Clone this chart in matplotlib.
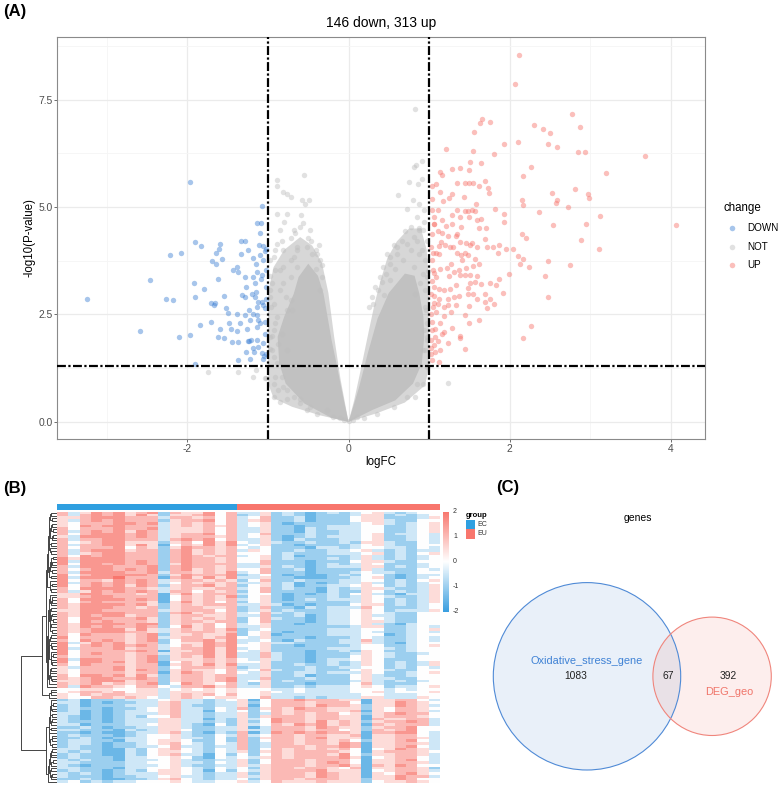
import numpy as np
import matplotlib
matplotlib.use('Agg')
import matplotlib.pyplot as plt
from matplotlib.colors import LinearSegmentedColormap, ListedColormap
from matplotlib.patches import Circle, Rectangle

plt.rcParams['font.family'] = ['Liberation Sans', 'DejaVu Sans']

W, H = 779, 786

# ---------------- (A) volcano data (logFC, -log10 P) ----------------
down_pts = [
    (-3.25, 2.86), (-2.59, 2.12), (-2.47, 3.29), (-2.27, 2.85), (-2.18, 2.83), (-2.22, 3.88), (-2.08, 3.93),
    (-2.10, 1.98), (-1.97, 2.01), (-1.97, 5.59), (-1.91, 4.19), (-1.83, 4.09), (-1.92, 3.22), (-1.80, 3.09),
    (-1.90, 2.91), (-1.85, 2.25), (-1.91, 1.34), (-1.71, 2.33), (-1.70, 3.74), (-1.64, 3.94), (-1.61, 4.03),
    (-1.60, 4.15), (-1.57, 3.78), (-1.64, 3.68), (-1.62, 3.33), (-1.71, 2.77), (-1.67, 2.73), (-1.66, 2.77),
    (-1.55, 2.92), (-1.52, 2.64), (-1.50, 2.54), (-1.48, 2.30), (-1.46, 2.17), (-1.59, 2.17), (-1.62, 1.98),
    (-1.55, 1.94), (-1.45, 1.86), (-1.37, 1.86), (-1.38, 2.11), (-1.35, 2.29), (-1.38, 2.50), (-1.37, 1.43),
    (-1.43, 3.54), (-1.38, 3.60), (-1.37, 3.49), (-1.33, 4.22), (-1.28, 4.22), (-1.33, 3.91), (-1.25, 3.99),
    (-1.32, 2.95), (-1.29, 2.91), (-1.28, 3.37), (-1.27, 3.14), (-1.29, 2.48), (-1.26, 2.17), (-1.25, 1.88),
    (-1.24, 1.88), (-1.21, 1.90), (-1.22, 1.47), (-1.27, 1.63), (-1.22, 2.36), (-1.23, 2.60), (-1.19, 3.37),
    (-1.18, 3.82), (-1.14, 4.63), (-1.09, 4.63), (-1.07, 5.02), (-1.10, 4.40), (-1.11, 4.11), (-1.10, 3.88),
    (-1.15, 3.68), (-1.06, 4.09), (-1.04, 3.98), (-1.06, 3.76), (-1.03, 4.03), (-1.07, 3.41), (-1.09, 3.33),
    (-1.16, 3.22), (-1.15, 3.02), (-1.16, 2.91), (-1.13, 2.79), (-1.08, 2.79), (-1.06, 2.71), (-1.14, 2.67),
    (-1.14, 2.48), (-1.12, 2.38), (-1.10, 2.30), (-1.14, 2.21), (-1.04, 2.33), (-1.04, 2.05), (-1.06, 1.84),
    (-1.14, 1.90), (-1.13, 1.74), (-1.18, 1.71), (-1.17, 1.63), (-1.08, 1.60), (-1.05, 1.53), (-1.06, 1.47),
    (-1.02, 1.57), (-1.04, 2.64), (-1.02, 2.87), (-1.03, 3.14), (-1.02, 3.53), (-1.14, 3.49), (-1.20, 2.98),
    (-1.19, 2.52),
]

up_pts = [
    (2.12, 8.53), (2.07, 7.87), (2.78, 7.17), (2.87, 6.87), (2.30, 6.91), (2.41, 6.82), (2.50, 6.73),
    (2.48, 6.47), (2.59, 6.40), (2.85, 6.29), (2.93, 6.27), (3.68, 6.19), (3.20, 5.79), (2.11, 6.51),
    (1.93, 6.46), (1.81, 6.23), (1.66, 7.05), (1.63, 6.95), (1.76, 6.98), (1.56, 6.75), (1.21, 6.36),
    (1.55, 6.30), (2.26, 5.93), (2.16, 5.72), (2.81, 5.43), (2.52, 5.32), (2.97, 5.31), (2.98, 5.21),
    (2.59, 5.17), (2.57, 5.09), (2.72, 5.00), (2.15, 5.16), (2.17, 5.04), (2.36, 4.88), (2.54, 4.59),
    (3.12, 4.78), (2.95, 4.61), (2.89, 4.24), (3.11, 4.03), (4.06, 4.57), (2.15, 4.38), (2.20, 4.28),
    (2.04, 4.02), (1.96, 4.03), (2.11, 3.86), (2.17, 3.78), (2.13, 3.68), (2.24, 3.60), (2.48, 3.74),
    (2.75, 3.64), (2.44, 3.39), (2.48, 2.91), (1.99, 3.43), (1.92, 2.99), (1.87, 3.32), (2.27, 2.24),
    (2.16, 1.96), (1.93, 4.84), (1.93, 4.65), (1.82, 4.96), (1.87, 4.11), (1.79, 4.07), (1.85, 3.93),
    (1.72, 4.07), (1.69, 4.26), (1.71, 4.50), (1.62, 4.50), (1.64, 4.73), (1.60, 4.69), (1.57, 4.90),
    (1.48, 4.90), (1.44, 4.90), (1.53, 4.94), (1.35, 4.92), (1.39, 4.77), (1.50, 4.77), (1.58, 5.08),
    (1.29, 5.31), (1.43, 5.23), (1.25, 5.22), (1.17, 5.13), (1.11, 4.92), (1.06, 4.77), (1.06, 4.60),
    (1.16, 4.69), (1.28, 4.81), (1.28, 4.60), (1.21, 4.55), (1.11, 4.43), (1.16, 4.40), (1.23, 4.32),
    (1.33, 4.32), (1.35, 4.38), (1.40, 4.53), (1.39, 4.19), (1.46, 4.17), (1.51, 4.11), (1.59, 4.07),
    (1.53, 4.16), (1.44, 3.94), (1.35, 3.94), (1.30, 4.07), (1.26, 4.07), (1.20, 4.11), (1.15, 4.19),
    (1.12, 4.09), (1.09, 3.94), (1.05, 3.94), (1.12, 3.91), (1.40, 3.88), (1.48, 3.88), (1.41, 3.76),
    (1.57, 3.78), (1.62, 3.68), (1.54, 3.62), (1.46, 3.57), (1.37, 3.53), (1.31, 3.49), (1.22, 3.57),
    (1.27, 3.68), (1.14, 3.55), (1.06, 3.47), (1.08, 3.36), (1.25, 3.40), (1.38, 3.41), (1.45, 3.41),
    (1.51, 3.41), (1.60, 3.39), (1.57, 3.26), (1.51, 3.22), (1.48, 3.12), (1.64, 3.20), (1.76, 3.22),
    (1.83, 3.19), (1.69, 2.98), (1.55, 2.98), (1.48, 2.98), (1.37, 2.93), (1.33, 3.18), (1.26, 3.10),
    (1.19, 3.06), (1.12, 3.10), (1.06, 3.14), (1.06, 2.92), (1.12, 2.85), (1.23, 2.85), (1.31, 2.91),
    (1.59, 2.85), (1.76, 2.87), (1.80, 2.75), (1.69, 2.79), (1.72, 2.66), (1.50, 2.69), (1.34, 2.71),
    (1.24, 2.71), (1.19, 2.67), (1.11, 2.75), (1.06, 2.77), (1.09, 2.56), (1.27, 2.56), (1.45, 2.48),
    (1.18, 2.46), (1.62, 2.36), (1.50, 2.31), (1.28, 2.19), (1.14, 2.29), (1.07, 2.17), (1.18, 2.09),
    (1.16, 2.04), (1.07, 1.98), (1.38, 1.99), (1.39, 1.94), (1.23, 1.84), (1.11, 1.88), (1.06, 1.78),
    (1.45, 1.69), (1.13, 1.67), (1.07, 1.63), (1.12, 1.40), (1.04, 1.43), (1.02, 1.57), (1.02, 1.71),
    (1.03, 1.91), (1.04, 2.13), (1.04, 2.33), (1.03, 2.52), (1.05, 2.67), (1.03, 2.98), (1.04, 3.27),
    (1.05, 3.53), (1.04, 3.76), (1.03, 4.07), (1.04, 4.38), (1.06, 4.61), (1.04, 4.92), (1.04, 5.19),
    (1.04, 5.50), (1.08, 5.53), (1.13, 5.81), (1.16, 5.74), (1.29, 5.88), (1.38, 5.91), (1.50, 5.85),
    (1.51, 6.05), (1.65, 6.02), (1.35, 5.55), (1.45, 5.55), (1.49, 5.55), (1.54, 5.55), (1.62, 5.50),
    (1.70, 5.60), (1.73, 5.44), (1.74, 5.33), (1.13, 5.36),
]

# scattered non-significant genes outside the saturated core
not_pts = [
    (-0.55, 5.74), (-0.89, 5.62), (-0.89, 5.50), (-0.81, 5.35), (-0.76, 5.31), (-0.72, 5.23), (-0.58, 5.16),
    (-0.49, 5.17), (-0.54, 5.08), (-0.89, 4.84), (-0.76, 4.84), (-0.59, 4.81), (-0.80, 4.65), (-0.56, 4.63),
    (-0.85, 4.46), (-0.72, 4.29), (-0.50, 4.29), (-0.46, 4.21), (-0.37, 4.11), (-0.41, 3.99), (-0.89, 4.15),
    (-0.93, 3.84), (-0.81, 3.99), (-0.64, 4.07), (-0.68, 3.84), (-0.91, 3.53), (-0.95, 3.22), (-0.85, 3.06),
    (-0.93, 2.75), (-0.89, 2.44), (-0.93, 2.13), (-0.87, 1.82), (-0.93, 1.51), (-0.91, 1.05), (-0.93, 0.58),
    (-0.85, 0.47), (-0.77, 0.54), (-0.81, 0.81), (-0.60, 0.54), (-0.48, 0.35), (-0.33, 3.37), (-0.33, 3.64),
    (-0.35, 3.06), (-0.72, 3.37), (-0.64, 3.60), (-0.81, 3.60), (-1.19, 1.05), (-1.04, 1.01), (-1.75, 1.15),
    (-1.37, 1.16), (-1.15, 1.20), (-1.03, 1.03), (-0.78, 2.90), (-0.70, 2.60), (-0.95, 2.00), (-0.98, 1.70),
    (-0.97, 2.90), (-0.98, 3.40), (-0.66, 4.40), (-0.45, 3.90), (-0.40, 3.55),
    (-0.97, 3.76), (-0.91, 3.99), (-0.83, 4.22), (-0.68, 4.46), (-0.60, 4.53), (-0.48, 4.46), (-0.39, 3.91),
    (-0.35, 3.76), (-0.97, 3.06), (-0.96, 2.67), (-0.91, 2.29), (-0.97, 1.98), (-0.95, 1.67), (-0.89, 1.36),
    (-0.83, 1.05), (-0.93, 0.89), (-0.87, 0.74), (-0.77, 0.74), (-0.68, 0.58), (-0.60, 0.43), (-0.52, 0.27),
    (-0.39, 0.19), (-0.81, 3.22), (-0.72, 2.83), (-0.77, 2.60), (-0.85, 3.53), (-0.64, 3.99), (-0.52, 4.07),
    (-0.72, 3.76), (-0.77, 1.67), (-0.83, 2.05), (-0.27, 0.27), (-0.19, 0.12),
    (0.00, 0.02), (-0.05, 0.05), (0.05, 0.05), (-0.10, 0.10), (0.10, 0.12),
    (0.81, 5.93), (0.91, 6.07), (0.84, 5.97), (0.75, 5.58), (0.86, 5.54), (0.91, 5.66), (0.62, 5.27),
    (0.80, 5.17), (0.72, 4.96), (0.87, 5.08), (0.94, 4.92), (0.85, 4.77), (0.94, 4.65), (0.93, 4.46),
    (0.66, 4.22), (0.81, 4.30), (0.56, 4.11), (0.48, 3.91), (0.52, 3.68), (0.46, 3.45), (0.41, 3.26),
    (0.37, 3.06), (0.31, 2.75), (0.60, 3.91), (0.77, 3.99), (0.87, 3.91), (0.95, 3.76), (0.93, 3.45),
    (0.95, 3.06), (0.96, 2.60), (0.94, 2.13), (0.95, 1.67), (0.97, 1.28), (0.93, 0.89), (0.83, 0.58),
    (0.82, 7.29), (1.24, 0.91), (0.70, 4.45), (0.58, 3.55), (0.52, 3.30), (0.44, 2.95), (0.98, 2.30),
    (0.99, 3.50), (0.98, 1.90), (0.97, 4.20), (0.88, 4.50),
    (0.85, 0.89), (0.72, 0.58), (0.56, 0.35), (0.35, 0.19), (0.19, 0.08), (0.93, 1.67), (0.97, 1.98),
    (0.95, 2.67), (0.97, 3.37), (0.91, 3.99), (0.85, 4.22), (0.72, 4.15), (0.60, 4.07), (0.52, 3.84),
    (0.43, 3.60), (0.39, 3.37), (0.33, 3.14), (0.29, 2.91), (0.25, 2.67), (0.77, 4.53), (0.87, 4.46),
    (0.68, 3.76), (0.81, 3.60), (0.89, 3.22), (0.83, 2.98),
]

# outline of the dense grey cloud (outer = overlapping fringe, inner = saturated core)
cloud_outer = [
    [(0, 0), (-0.35, 0.15), (-0.7, 0.35), (-0.93, 0.55), (-1.0, 0.9), (-1.0, 3.0), (-0.93, 3.6), (-0.8, 4.0),
     (-0.6, 4.3), (-0.45, 4.1), (-0.33, 3.7), (-0.25, 3.0), (-0.18, 2.0), (-0.1, 1.0)],
    [(0, 0), (0.35, 0.2), (0.7, 0.45), (0.95, 0.85), (1.0, 1.3), (1.0, 3.2), (0.97, 4.0), (0.9, 4.5),
     (0.75, 4.5), (0.6, 4.2), (0.48, 3.8), (0.4, 3.3), (0.33, 2.8), (0.25, 2.1), (0.15, 1.2), (0.07, 0.5)],
]
cloud_inner = [
    [(0, 0), (-0.22, 0.1), (-0.55, 0.43), (-0.78, 0.89), (-0.86, 1.36), (-0.88, 1.98), (-0.8, 2.44),
     (-0.68, 2.98), (-0.62, 3.37), (-0.5, 3.68), (-0.38, 3.4), (-0.31, 2.98), (-0.26, 2.44), (-0.21, 1.9),
     (-0.15, 1.36), (-0.1, 0.89), (-0.05, 0.43)],
    [(0, 0), (0.3, 0.28), (0.58, 0.5), (0.8, 0.89), (0.91, 1.36), (0.94, 1.98), (0.93, 2.44), (0.88, 2.98),
     (0.82, 3.4), (0.7, 3.45), (0.5, 3.0), (0.36, 2.4), (0.24, 1.6), (0.13, 0.8), (0.05, 0.3)],
]

n_down, n_up = 146, 313
logfc_cut = 1
p_cut = 0.05

# ---------------- (B) heatmap data ----------------
# levels 0..8 -> z-score -2..2 ; 16 EC samples then 18 EU samples
groups = ['EC'] * 16 + ['EU'] * 18
hm_top = [
    "6357 6756 7265 5746 3352 3212 3234 5323 44",
    "7466 5767 6356 6565 2462 2322 2334 4232 45",
    "5577 6665 6157 5666 3442 1212 3245 3213 35",
    "6456 7755 5256 4757 4353 2232 2325 5322 43",
    "7367 6767 6346 5656 3352 3121 2335 3232 34",
    "6476 6656 7255 6557 2451 2222 3334 4123 44",
    "5567 7766 6366 5646 3462 2312 2245 5222 35",
    "6466 6746 5257 6656 4342 2213 3234 4332 43",
    "7357 6756 6245 5767 3453 3222 2335 3213 44",
    "6577 7665 6256 6556 2362 2132 3336 4222 34",
    "5466 6776 7356 5646 3452 1222 2234 5323 45",
    "6367 7756 6267 5656 3542 2322 3345 3232 33",
    "7466 6667 6155 6757 4352 2212 2325 4223 44",
    "6477 7766 5356 5566 3462 3221 3235 5322 35",
    "5366 6756 6246 6656 2352 2232 2334 4232 43",
    "6577 7767 7256 5646 3452 2122 3345 3213 44",
    "7467 6656 6356 6757 3363 2212 2235 4322 34",
    "6356 7766 6267 5656 4442 3222 3334 5232 45",
    "6477 6757 5256 6566 3352 2312 2245 3223 44",
    "5567 7666 6146 5657 2452 1222 3235 4322 35",
    "6467 7767 6356 6746 3462 2232 2334 5233 43",
    "7377 6656 7255 5656 4353 2212 3345 4222 44",
    "6476 7766 6267 6566 3452 3122 2235 3232 34",
    "6567 7757 5356 5657 2342 2222 3334 4223 45",
    "5367 6766 6256 6746 3562 2312 2245 5322 44",
    "6477 7767 6146 5656 3452 1232 3335 4232 35",
    "7466 6656 7356 6567 4352 2212 2234 3223 43",
    "6577 7766 6267 5656 3463 2322 3345 4322 44",
    "6367 6757 5255 6746 2352 3212 2235 5232 34",
    "5476 7766 6356 5656 3452 2122 3334 4223 45",
    "6567 7667 6256 6567 3362 2232 2245 3322 44",
    "7477 6756 7146 5656 4452 2212 3235 4232 35",
    "6366 7766 6367 6746 3352 1322 2334 5223 43",
    "6477 6667 5256 5656 2463 2212 3345 4322 44",
    "5567 7756 6256 6567 3452 3222 2235 3232 34",
    "6466 6766 7355 5646 3352 2132 3334 4223 45",
    "7377 7767 6267 6656 4462 2212 2245 5322 44",
    "6476 6656 6156 5757 3352 2322 3235 4232 35",
    "6567 7766 5356 6656 2452 1222 3334 3223 43",
    "5466 6757 6256 5546 3463 2232 2245 4322 44",
    "6377 7666 7267 6656 3352 3212 3335 5232 34",
    "7467 6767 6346 5767 4452 2122 2234 4223 45",
    "6576 7756 6256 6556 3362 2312 3345 3322 44",
    "6467 6666 5157 5646 2452 2222 2235 4232 35",
    "5377 7767 6356 6656 3452 1232 3334 5223 43",
    "6466 6656 7256 5757 3363 2212 2245 4322 44",
    "7577 7766 6267 6656 4452 3222 3235 3232 34",
    "6367 6757 6355 5646 3352 2132 2334 4223 45",
    "6476 7666 5256 6566 2462 2212 3345 5322 44",
    "4455 5445 5345 4545 4443 3433 3344 4343 44",
    "6376 6546 6436 6756 3352 2323 3345 4233 45",
    "7467 7777 6257 6667 2342 1211 2324 4212 33",
    "5446 6565 4356 5455 4463 3232 3335 5333 54",
    "6567 5656 7247 6546 3252 2212 2246 3222 44",
    "7377 7866 6167 5757 3352 2111 2234 5212 34",
    "5465 6655 5356 5646 4453 3333 3334 4333 44",
    "6357 6767 6366 4656 2462 2221 3225 4232 35",
    "6476 7656 7246 6757 3342 1322 2336 3223 43",
    "4566 5645 5355 5545 4454 3433 3344 5344 45",
    "7477 6767 6257 6666 3362 2212 3235 4222 34",
    "6366 7757 5146 5757 3452 2122 2234 5322 44",
    "5577 6666 6356 6646 2352 3222 3345 4233 35",
    "6467 7676 7267 5656 4462 2312 2225 3222 43",
    "7366 6756 6356 6757 3452 2222 3334 4323 44",
    "6577 7767 5256 5666 3353 1212 2245 5232 34",
    "5466 6656 6157 6546 4352 2332 3335 4223 45",
    "6377 7766 7366 5657 3462 2212 2234 3322 44",
    "7467 6757 6256 6756 2452 3122 3345 4232 35",
    "6576 7667 6247 5646 3352 2222 2235 5223 43",
]
hm_bottom = [
    "2312 2233 3453 3234 5146 6766 6551 5566 43",
    "3322 1132 4564 3243 6246 5656 5641 4576 53",
    "2232 1223 3553 2233 5136 6657 6552 5667 44",
    "3322 2133 4454 3243 4256 6566 5461 5566 52",
    "3212 1233 3553 3132 5347 6656 6551 6556 63",
    "2322 1223 4563 3243 6256 5766 5552 5466 54",
    "3232 2133 3453 2233 5246 6656 6641 5567 43",
    "2322 1232 4554 3142 4356 6667 5551 4566 53",
    "3312 1233 3563 3233 5236 5656 6452 5676 64",
    "2322 2123 4453 2243 6346 6566 5561 5566 43",
    "3232 1233 3554 3233 5256 6657 6551 5467 54",
    "2322 1132 4563 3142 4246 5666 5742 5566 53",
    "3212 2233 3453 2233 5356 6656 6751 6576 44",
    "2332 1223 4564 3243 6236 6566 5761 5566 53",
    "3222 1233 3553 3232 5247 6657 5652 5667 63",
    "2322 2133 4454 2143 4356 5666 6751 4566 43",
    "3312 1223 3563 3233 5246 6656 6641 5576 54",
    "2232 1233 4453 3242 6256 6567 5551 5566 53",
    "3322 2132 3554 2233 5336 6656 6452 6567 44",
    "2312 1233 4563 3143 4246 5666 5561 5466 53",
    "3222 1223 3453 3233 5356 6657 6551 5576 63",
    "2332 2133 4554 2242 6246 6566 5642 5567 43",
    "3212 1232 4463 3233 5256 6656 6551 5666 54",
    "3423 2334 4454 3344 5346 5556 5552 4556 54",
    "2212 1123 3563 2132 6137 6767 6651 6677 43",
    "3322 2233 4453 3243 5246 6656 7641 5566 53",
    "2232 1122 3564 3233 4256 6566 6552 5576 44",
    "3312 2233 4553 2142 5346 5767 5651 6566 63",
    "2322 1223 3463 3233 6236 6656 6761 5567 43",
    "3232 1132 4554 3243 5256 5666 6541 5666 54",
    "2312 2233 3563 2233 5146 6657 6652 5576 53",
]

# ---------------- (C) venn data ----------------
set_names = ['Oxidative_stress_gene', 'DEG_geo']
only_a, both, only_b = 1083, 67, 392


def rows_to_matrix(rows):
    return np.array([[(int(c) - 4) / 2 for c in r.replace(' ', '')] for r in rows])


def complete_linkage(X):
    # same as pheatmap default: euclidean distance, complete linkage
    n = len(X)
    D = np.sqrt(((X[:, None, :] - X[None, :, :]) ** 2).sum(-1))
    np.fill_diagonal(D, np.inf)
    act = np.ones(n, bool)
    label = list(range(n))
    merges = []
    nxt = n
    for _ in range(n - 1):
        M = D.copy()
        M[~act, :] = np.inf
        M[:, ~act] = np.inf
        i, j = np.unravel_index(np.argmin(M), M.shape)
        if i > j:
            i, j = j, i
        merges.append((label[i], label[j], D[i, j]))
        new = np.maximum(D[i], D[j])
        D[i, :] = new
        D[:, i] = new
        D[i, i] = np.inf
        D[j, :] = np.inf
        D[:, j] = np.inf
        act[j] = False
        label[i] = nxt
        nxt += 1
    return merges


def lens_area(d, r1, r2):
    a1 = r1 ** 2 * np.arccos((d * d + r1 * r1 - r2 * r2) / (2 * d * r1))
    a2 = r2 ** 2 * np.arccos((d * d + r2 * r2 - r1 * r1) / (2 * d * r2))
    k = 0.5 * np.sqrt((-d + r1 + r2) * (d + r1 - r2) * (d - r1 + r2) * (d + r1 + r2))
    return a1 + a2 - k


fig = plt.figure(figsize=(W / 100, H / 100), dpi=100)


def ax_px(x0, y0, x1, y1):
    return fig.add_axes([x0 / W, 1 - y1 / H, (x1 - x0) / W, (y1 - y0) / H])


ov = ax_px(0, 0, W, H)
ov.set_xlim(0, W)
ov.set_ylim(H, 0)
ov.axis('off')

# ================= (A) volcano =================
c_down, c_not, c_up = '#3d80d4', '#bdbdbd', '#f7726a'
ax = ax_px(57.3, 37, 705, 439.3)
for poly in cloud_outer:
    px, py = zip(*poly)
    ax.fill(px, py, color=c_not, alpha=0.6, lw=0, zorder=2)
for poly in cloud_inner:
    px, py = zip(*poly)
    ax.fill(px, py, color='#c1c1c1', alpha=1, lw=0, zorder=2)
for pts, col in [(not_pts, c_not), (down_pts, c_down), (up_pts, c_up)]:
    x, y = np.array(pts).T
    ax.scatter(x, y, s=15, c=col, alpha=0.45, lw=0, zorder=3)

allp = np.array(down_pts + up_pts + not_pts)
xr = allp[:, 0].max() - allp[:, 0].min()
yr = allp[:, 1].max() - allp[:, 1].min()
ax.set_xlim(allp[:, 0].min() - 0.05 * xr, allp[:, 0].max() + 0.05 * xr)
ax.set_ylim(allp[:, 1].min() - 0.05 * yr, allp[:, 1].max() + 0.05 * yr)

dd = (4, 1.1, 1, 1.1)
for v in (-logfc_cut, logfc_cut):
    ax.axvline(v, color='black', lw=1.6, dashes=dd, zorder=4)
ax.axhline(-np.log10(p_cut), color='black', lw=1.6, dashes=dd, zorder=4)

ax.set_xticks([-2, 0, 2, 4])
ax.set_xticklabels(['-2', '0', '2', '4'])
ax.set_xticks([-3, -1, 1, 3], minor=True)
ax.set_yticks([0, 2.5, 5, 7.5])
ax.set_yticklabels(['0.0', '2.5', '5.0', '7.5'])
ax.set_yticks([1.25, 3.75, 6.25, 8.75], minor=True)
ax.grid(which='major', color='#ebebeb', lw=0.9)
ax.grid(which='minor', color='#f5f5f5', lw=0.6)
ax.set_axisbelow(True)
ax.tick_params(which='major', length=2.2, width=0.6, color='#555555', labelsize=7.4,
               labelcolor='#4d4d4d', pad=1)
ax.tick_params(which='minor', length=0)
for s in ax.spines.values():
    s.set_color('#8a8a8a')
    s.set_linewidth(0.8)

ov.text(381, 23, '%d down, %d up' % (n_down, n_up), fontsize=10, ha='center', va='center')
ov.text(381, 461.7, 'logFC', fontsize=8.3, ha='center', va='center')
ov.text(30, 238, '-log10(P-value)', fontsize=8.3, ha='center', va='center', rotation=90)
ov.text(723.3, 208, 'change', fontsize=8.3, ha='left', va='center')
for i, (lab, col) in enumerate([('DOWN', c_down), ('NOT', c_not), ('UP', c_up)]):
    yk = 228 + i * 18.65
    ov.scatter([731.7], [yk], s=16, c=col, alpha=0.45, lw=0)
    ov.text(747.7, yk, lab, fontsize=7.1, ha='left', va='center')

ov.text(2.7, 11.7, '(A)', fontsize=12, fontweight='bold', ha='left', va='center')

# ================= (B) heatmap =================
top = rows_to_matrix(hm_top)
bot = rows_to_matrix(hm_bottom)
mat = np.vstack([top, bot])
n = len(mat)
merges = complete_linkage(mat)
kids = {n + k: (a, b, h) for k, (a, b, h) in enumerate(merges)}
root = n + len(merges) - 1


def leaves(node):
    if node < n:
        return [node]
    a, b, _ = kids[node]
    return leaves(a) + leaves(b)


order = leaves(root)
if order[0] >= len(top):
    order = order[::-1]
pos = {leaf: i + 0.5 for i, leaf in enumerate(order)}
hgt = {leaf: 0.0 for leaf in order}

den = ax_px(20, 511.7, 57, 783.3)
for node in range(n, root + 1):
    a, b, h = kids[node]
    den.plot([hgt[a], h, h, hgt[b]], [pos[a], pos[a], pos[b], pos[b]], color='#444444', lw=0.7)
    pos[node] = (pos[a] + pos[b]) / 2
    hgt[node] = h
den.set_xlim(hgt[root] * 1.03, 0)
den.set_ylim(n, 0)
den.axis('off')

hm_cmap = LinearSegmentedColormap.from_list('bwr2', ['#3a9fe0', '#ffffff', '#f8766d'])
grp_cols = {'EC': '#2f9fe0', 'EU': '#f8766d'}
hm = ax_px(57, 511.7, 440, 783.3)
hm.imshow(mat[order], cmap=hm_cmap, vmin=-2, vmax=2, aspect='auto', interpolation='nearest')
hm.axis('off')

ann = ax_px(57, 503.7, 440, 510)
gcode = np.array([[0 if g == 'EC' else 1 for g in groups]])
ann.imshow(gcode, cmap=ListedColormap([grp_cols['EC'], grp_cols['EU']]), vmin=0, vmax=1,
           aspect='auto', interpolation='nearest')
ann.axis('off')

cb = ax_px(443.3, 511.7, 449, 611.7)
cb.imshow(np.linspace(2, -2, 200)[:, None], cmap=hm_cmap, vmin=-2, vmax=2, aspect='auto',
          extent=(0, 1, -2, 2))
cb.set_xlim(0, 1)
cb.set_ylim(-2, 2)
cb.axis('off')
for v in [2, 1, 0, -1, -2]:
    cb.text(1.7, v, str(v), fontsize=5, ha='left', va='center', color='#333333', clip_on=False)

ov.text(466, 515.7, 'group', fontsize=5.5, fontweight='bold', ha='left', va='center')
for i, g in enumerate(['EC', 'EU']):
    y0 = 520 + i * 9.3
    ov.add_patch(Rectangle((466, y0), 9, 9.3, color=grp_cols[g], lw=0))
    ov.text(477.7, y0 + 4.6, g, fontsize=5, ha='left', va='center', color='#333333')

ov.text(2.7, 489, '(B)', fontsize=12, fontweight='bold', ha='left', va='center')

# ================= (C) venn =================
ra = np.sqrt((only_a + both) / np.pi)
rb = np.sqrt((only_b + both) / np.pi)
lo, hi = abs(ra - rb) + 1e-6, ra + rb - 1e-6
for _ in range(80):
    mid = (lo + hi) / 2
    if lens_area(mid, ra, rb) > both:
        lo = mid
    else:
        hi = mid
dist = (lo + hi) / 2

sc = 93.7 / ra  # pixels per unit
cx, cy = 587, 676.3
vx0, vy0, vx1, vy1 = 480, 530, 779, 786
vn = ax_px(vx0, vy0, vx1, vy1)
vn.set_xlim(-(cx - vx0) / sc, (vx1 - cx) / sc)
vn.set_ylim(-(vy1 - cy) / sc, (cy - vy0) / sc)
vn.axis('off')
vn.add_patch(Circle((0, 0), ra, facecolor='#3a78d0', alpha=0.11, lw=0))
vn.add_patch(Circle((dist, 0), rb, facecolor='#f06050', alpha=0.1, lw=0))
vn.add_patch(Circle((0, 0), ra, fill=False, edgecolor='#4f8ad6', lw=0.8))
vn.add_patch(Circle((dist, 0), rb, fill=False, edgecolor='#f0857c', lw=0.8))

xa = (-ra + dist - rb) / 2
xab = (dist - rb + ra) / 2
xb = (ra + dist + rb) / 2
vn.text(xa + 0.6, 0, str(only_a), fontsize=7.4, ha='center', va='center', color='#222222')
vn.text(xab + 0.3, 0, str(both), fontsize=7.4, ha='center', va='center', color='#222222')
vn.text(xb + 0.4, 0, str(only_b), fontsize=7.4, ha='center', va='center', color='#222222')
vn.text(0, 3.2, set_names[0], fontsize=7.9, ha='center', va='center', color='#3f82d5')
vn.text(xb + 0.6, -3.3, set_names[1], fontsize=7.9, ha='center', va='center', color='#f0756a')

ov.text(638.3, 518.3, 'genes', fontsize=7.5, ha='center', va='center')
ov.text(496, 487.3, '(C)', fontsize=12, fontweight='bold', ha='left', va='center')

fig.savefig('out.png', dpi=100)
